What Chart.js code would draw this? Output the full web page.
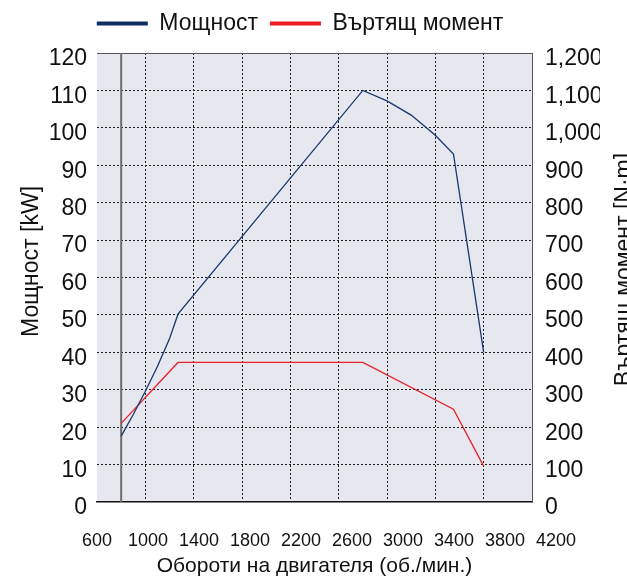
<!DOCTYPE html>
<html><head><meta charset="utf-8">
<script src="https://cdn.jsdelivr.net/npm/chart.js@4.4.1/dist/chart.umd.min.js"></script>
<style>html,body{margin:0;padding:0;background:#fff}</style>
</head><body>
<canvas id="c" width="627" height="581" style="width:627px;height:581px;display:block"></canvas>
<script>
// ---- data ----
const xTickLabels = [600, 1000, 1400, 1800, 2200, 2600, 3000, 3400, 3800, 4200];
const powerRpm = [800, 900, 1000, 1100, 1200, 1270, 2800, 3000, 3200, 3400, 3550, 3800];
const powerKw  = [17.6, 23.4, 29.6, 36.2, 43.6, 50.2, 110, 107.2, 103.4, 98, 93, 40];
const torqueRpm = [800, 1270, 2800, 3550, 3800];
const torqueNm  = [210, 373, 373, 248, 96];
const idleRpm = [800];
const powerTicks = {min: 0, max: 120, step: 10};
const torqueTicks = {min: 0, max: 1200, step: 100};
const leftTitle = 'Мощност [kW]';
const rightTitle = 'Въртящ момент [N·m]';
const xTitle = 'Обороти на двигателя (об./мин.)';

const FONT = "'Liberation Sans', Arial, Helvetica, sans-serif";
const TXT = '#111111';

const bgPlugin = {
  id: 'plotBg',
  beforeDraw(chart) {
    const {ctx, chartArea: a} = chart;
    ctx.save();
    ctx.fillStyle = '#e6e7ef';
    ctx.fillRect(a.left, a.top, a.right - a.left, a.bottom - a.top);
    ctx.restore();
  }
};
// vertical axis titles (both read bottom-to-top, as in the reference)
const sideTitlesPlugin = {
  id: 'sideTitles',
  afterDraw(chart) {
    const {ctx, chartArea: a} = chart;
    const mid = (a.top + a.bottom) / 2;
    const draw = (text, x, y, baseline) => {
      ctx.save();
      ctx.translate(x, y);
      ctx.rotate(-Math.PI / 2);
      ctx.font = '23px ' + FONT;
      ctx.fillStyle = TXT;
      ctx.textAlign = 'center';
      ctx.textBaseline = baseline;
      ctx.fillText(text, 0, 0);
      ctx.restore();
    };
    draw(leftTitle, 32, mid - 16, 'middle');
    draw(rightTitle, 631, mid - 8, 'alphabetic');
  }
};

// label row of the x axis is spaced a little wider than the grid
const labelAxisMax = 600 + 435 * 400 / 51;

new Chart(document.getElementById('c'), {
  type: 'line',
  data: {
    datasets: [
      {
        label: 'Мощност',
        data: powerRpm.map((x, i) => ({x, y: powerKw[i]})),
        xAxisID: 'x', yAxisID: 'y',
        borderColor: '#17386e', backgroundColor: '#0f2d5e',
        borderWidth: 1.3, pointRadius: 0, tension: 0, order: 1
      },
      {
        label: 'Въртящ момент',
        data: torqueRpm.map((x, i) => ({x, y: torqueNm[i]})),
        xAxisID: 'x', yAxisID: 'y1',
        borderColor: '#e8202a', backgroundColor: '#ed1c24',
        borderWidth: 1.3, pointRadius: 0, tension: 0, order: 1
      },
      {
        label: 'idle',
        data: [{x: idleRpm[0], y: powerTicks.min}, {x: idleRpm[0], y: powerTicks.max}],
        xAxisID: 'x', yAxisID: 'y',
        borderColor: '#6e6e6e', backgroundColor: '#6e6e6e',
        borderWidth: 2, pointRadius: 0, order: 5
      }
    ]
  },
  options: {
    responsive: false,
    devicePixelRatio: 1,
    animation: false,
    layout: {padding: {left: 0, right: 27, top: 0, bottom: 0}},
    plugins: {
      tooltip: {enabled: false},
      legend: {
        position: 'top',
        labels: {
          boxWidth: 51, boxHeight: 4, padding: 12,
          font: {size: 23, family: FONT}, color: TXT,
          filter: (item) => item.datasetIndex < 2,
          generateLabels: (chart) => Chart.defaults.plugins.legend.labels.generateLabels(chart)
            .map(l => Object.assign(l, {lineWidth: 0}))
        }
      }
    },
    scales: {
      xTop: {
        type: 'linear', position: 'top', display: true,
        ticks: {display: false}, grid: {display: false, drawTicks: false}, border: {display: false},
        afterFit: (s) => { s.height = 8; }
      },
      x: {
        type: 'linear', position: 'bottom',
        min: xTickLabels[0], max: xTickLabels[xTickLabels.length - 1],
        afterBuildTicks: (s) => { s.ticks = xTickLabels.map(v => ({value: v})); },
        afterFit: (s) => { s.height = 0; },
        grid: {
          drawTicks: false, lineWidth: 1,
          color: (c) => (c.tick && (c.tick.value === xTickLabels[0] || c.tick.value === xTickLabels[xTickLabels.length - 1])) ? 'rgba(0,0,0,0)' : '#1e1e1e'
        },
        border: {display: true, color: '#111', width: 1.5, dash: [2, 2]},
        ticks: {display: false}
      },
      x2: {
        type: 'linear', position: 'bottom',
        min: xTickLabels[0], max: labelAxisMax,
        afterBuildTicks: (s) => { s.ticks = xTickLabels.map(v => ({value: v})); },
        afterFit: (s) => { s.height = 79; },
        grid: {display: false, drawTicks: false},
        border: {display: false},
        ticks: {
          autoSkip: false, maxRotation: 0, minRotation: 0, padding: 28,
          font: {size: 18, family: FONT}, color: TXT,
          callback: (v) => String(v)
        },
        title: {
          display: true, text: xTitle,
          font: {size: 21, family: FONT}, color: TXT, padding: {top: 2, bottom: 2}
        }
      },
      y: {
        type: 'linear', position: 'left',
        min: powerTicks.min, max: powerTicks.max,
        afterFit: (s) => { s.width = 97; },
        ticks: {stepSize: powerTicks.step, padding: 10, labelOffset: 6, font: {size: 23, family: FONT}, color: TXT},
        grid: {
          drawTicks: false, lineWidth: 1,
          color: (c) => !c.tick ? '#1e1e1e' : (c.tick.value === 0 ? 'rgba(0,0,0,0)' : (c.tick.value === powerTicks.max ? '#555' : '#1e1e1e'))
        },
        border: {display: false, dash: (c) => (c.tick && c.tick.value === powerTicks.max) ? [] : [2, 2]},
        title: {display: false, text: leftTitle}
      },
      y1: {
        type: 'linear', position: 'right',
        min: torqueTicks.min, max: torqueTicks.max,
        afterFit: (s) => { s.width = 68; },
        ticks: {stepSize: torqueTicks.step, padding: 13, labelOffset: 6, font: {size: 23, family: FONT}, color: TXT,
          callback: (v) => v.toLocaleString('en-US')},
        grid: {drawOnChartArea: false, drawTicks: false},
        border: {display: true, color: '#555', width: 1},
        title: {display: false, text: rightTitle}
      }
    }
  },
  plugins: [bgPlugin, sideTitlesPlugin]
});
</script>
</body></html>
